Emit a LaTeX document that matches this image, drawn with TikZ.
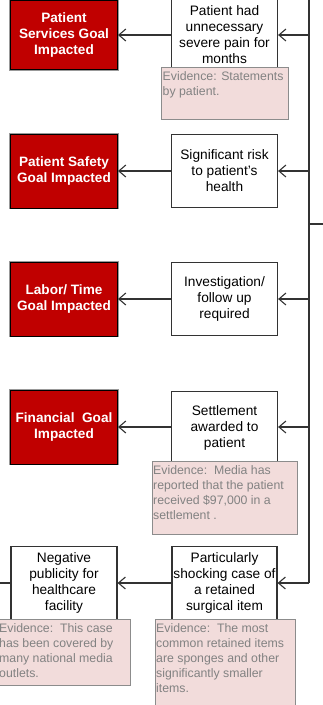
\documentclass[tikz,border=0pt]{standalone}
\usepackage{fontspec}
\setmainfont{Liberation Sans}
\usetikzlibrary{arrows.meta}
\definecolor{goalred}{HTML}{C00000}
\definecolor{evfill}{HTML}{F2DCDB}
\definecolor{evtextc}{HTML}{828282}
\definecolor{evline}{HTML}{8C8C8C}
\definecolor{lnc}{HTML}{333333}
\tikzset{
  goal/.style={fill=goalred, draw=black, line width=1pt,
    preaction={draw=gray!80, line width=2.6pt},
    minimum width=107pt, minimum height=74pt, inner sep=0pt,
    text=white, align=center, font=\bfseries\fontsize{13.6}{16}\selectfont},
  cause/.style={fill=white, draw=lnc, line width=1.2pt,
    minimum width=106pt, minimum height=73pt, inner sep=0pt,
    align=center, font=\fontsize{13.7}{16}\selectfont},
  evbox/.style={fill=evfill, draw=evline, line width=0.9pt},
  evtext/.style={anchor=north west, inner sep=0pt, align=left, text=evtextc,
    font=\fontsize{12.3}{15}\selectfont},
  conn/.style={draw=lnc, line width=1.1pt},
  arr/.style={conn, -{Straight Barb[length=7pt,width=12pt,line width=1.1pt]}}
}
\begin{document}
\begin{tikzpicture}[x=1pt,y=-1pt]
\useasboundingbox (0,0) rectangle (323,705);
\clip (0,0) rectangle (323,705);
\fill[white] (0,0) rectangle (323,705);

% goal boxes
\node[goal, minimum height=68.5pt] (r1) at (64,35) {Patient\\Services Goal\\Impacted};
\node[goal] (r2) at (64,171) {Patient Safety\\Goal Impacted};
\node[goal] (r3) at (64,299) {Labor/ Time\\Goal Impacted};
\node[goal] (r4) at (64,427) {Financial\ \ Goal\\Impacted};

% cause boxes
\node[cause, minimum height=72pt] (w1) at (224.5,35) {Patient had\\unnecessary\\severe pain for\\months};
\node[cause] (w2) at (224.5,171) {Significant risk\\to patient's\\health};
\node[cause] (w3) at (224.5,299) {Investigation/\\follow up\\required};
\node[cause] (w4) at (224.5,428) {Settlement\\awarded to\\patient};
\node[cause, minimum width=105pt] (w5) at (224.5,583) {Particularly\\shocking case of\\a retained\\surgical item};
\node[cause] (n5) at (64,583) {Negative\\publicity for\\healthcare\\facility};

% trunk
\coordinate (top) at (309,-5);
\coordinate (br) at (309,224);
\coordinate (brend) at (330,224);
\coordinate (bot) at (309,583);
\coordinate (t1) at (309,35);
\coordinate (t2) at (309,171);
\coordinate (t3) at (309,299);
\coordinate (t4) at (309,427);
\coordinate (lend) at (-5,583);
\draw[conn] (top) -- (bot);
\draw[conn] (br) -- (brend);
\draw[arr] (t1) -- (w1.east |- t1);
\draw[arr] (t2) -- (w2.east |- t2);
\draw[arr] (t3) -- (w3.east |- t3);
\draw[arr] (t4) -- (w4.east |- t4);
\draw[arr] (bot) -- (w5.east |- bot);
\draw[arr] (w1.west) -- (r1.east);
\draw[arr] (w2.west) -- (r2.east);
\draw[arr] (w3.west) -- (r3.east);
\draw[arr] (w4.west |- r4.east) -- (r4.east);
\draw[arr] (w5.west) -- (n5.east);
\draw[conn] (n5.west) -- (lend);

% evidence boxes
\draw[evbox] (161,67) rectangle (288,119);
\node[evtext] (e1) at (162.5,71) {Evidence: Statements\\by patient.};
\draw[evbox] (152,461) rectangle (297,534);
\node[evtext] (e4) at (153,465) {Evidence:\ \ Media has\\reported that the patient\\received \$97,000 in\ a\\settlement .};
\draw[evbox] (-5,619) rectangle (130,685);
\node[evtext] (e5) at (-1,623) {Evidence:\ \ This case\\has been covered by\\many national media\\outlets.};
\draw[evbox] (155,619) rectangle (295,712);
\node[evtext] (e6) at (156,623) {Evidence:\ \ The most\\common retained items\\are sponges and other\\significantly smaller\\items.};
\end{tikzpicture}
\end{document}
